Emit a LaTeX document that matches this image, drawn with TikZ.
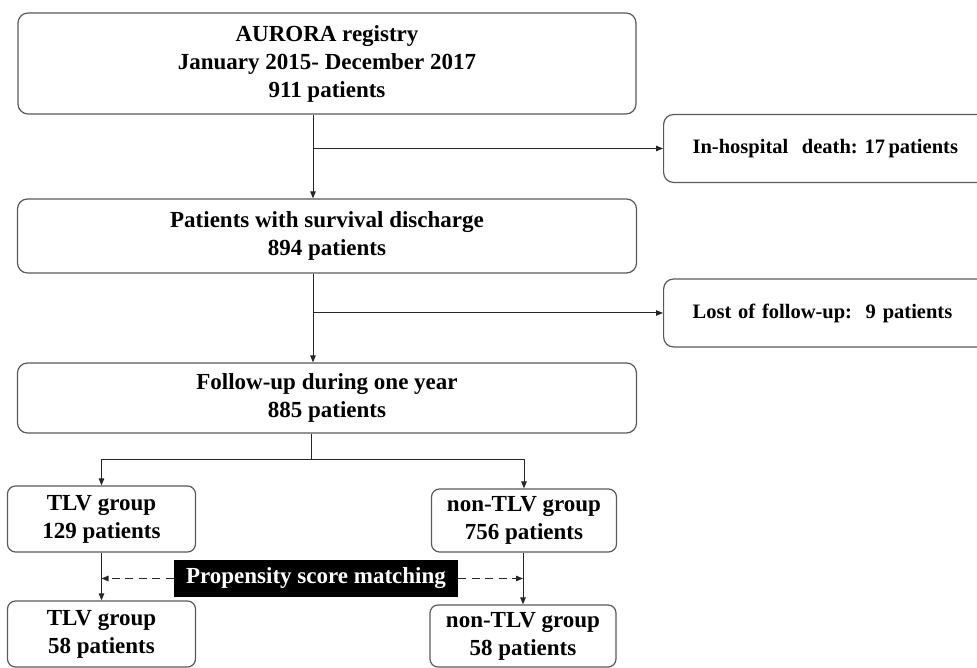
\documentclass[tikz,border=0pt]{standalone}
\usepackage{fontspec}
\setmainfont{Liberation Serif}
\usetikzlibrary{arrows.meta}

\begin{document}
\begin{tikzpicture}[x=1pt,y=1pt,
        box/.style={draw=black!65,line width=1.2pt,rounded corners=10pt,inner sep=0pt,
                align=center,font=\bfseries\fontsize{23}{28}\selectfont},
        sidebox/.style={draw=black!65,line width=1.2pt,rounded corners=10pt,anchor=west,
                text width=274pt,inner xsep=29pt,minimum height=68pt,align=left,
                font=\bfseries\fontsize{20.5}{24}\selectfont},
        flow/.style={draw=black!85,line width=1pt,arrows = -{Triangle[length=7pt,width=5.5pt]}},
        link/.style={draw=black!85,line width=1pt},
        match/.style={flow,line width=1.3pt,dash pattern=on 8pt off 5.5pt}]

        \useasboundingbox (0,0) rectangle (977,668);

        %\draw [help lines,step=50] (0,0) grid (977,668);

        \path   (327,604.5) node (aurora) [box,minimum width=618pt,minimum height=101pt]
                        {AURORA registry\\January 2015- December 2017\\911 patients}
                (663,519.5) node (death) [sidebox] {In-hospital\ \ death:\ 17\,patients}
                (327,432) node (survival) [box,minimum width=619pt,minimum height=74pt]
                        {Patients with survival discharge\\894 patients}
                (663,355) node (lost) [sidebox] {Lost of follow-up:\ \ 9 patients}
                (327,270) node (followup) [box,minimum width=619pt,minimum height=70pt]
                        {Follow-up during one year\\885 patients}
                (101.5,149) node (tlv) [box,rounded corners=8pt,minimum width=188pt,minimum height=66pt]
                        {TLV group\\129 patients}
                (524,147.5) node (nontlv) [box,rounded corners=8pt,minimum width=185pt,minimum height=63pt]
                        {non-TLV group\\756 patients}
                (101.5,34) node (tlvps) [box,rounded corners=8pt,minimum width=188pt,minimum height=66pt]
                        {TLV group\\58 patients}
                (523,32) node (nontlvps) [box,rounded corners=8pt,minimum width=186pt,minimum height=62pt]
                        {non-TLV group\\58 patients}
                (316,89.5) node (psm) [fill=black,text=white,minimum width=284pt,minimum height=37pt,
                        inner sep=0pt,font=\bfseries\fontsize{23}{28}\selectfont] {Propensity score matching};

        \coordinate (stem) at (313,0);
        \coordinate (split) at (311,208);
        \coordinate (tlvline) at (101.5,0);
        \coordinate (nonline) at (523,0);

        \draw[flow] (stem |- aurora.south) -- (stem |- survival.north);
        \draw[flow] (stem |- death.west) -- (death.west);
        \draw[flow] (stem |- survival.south) -- (stem |- followup.north);
        \draw[flow] (stem |- lost.west) -- (lost.west);

        \draw[link] (split |- followup.south) -- (split);
        \draw[flow] (split) -| (tlv.north);
        \draw[flow] (split) -| (nontlv.north);

        \draw[flow] (tlvline |- tlv.south) -- (tlvline |- tlvps.north);
        \draw[flow] (nonline |- nontlv.south) -- (nonline |- nontlvps.north);

        \draw[match] (psm.west) -- (tlvline |- psm.west);
        \draw[match] (psm.east) -- (nonline |- psm.east);

\end{tikzpicture}
\end{document}
